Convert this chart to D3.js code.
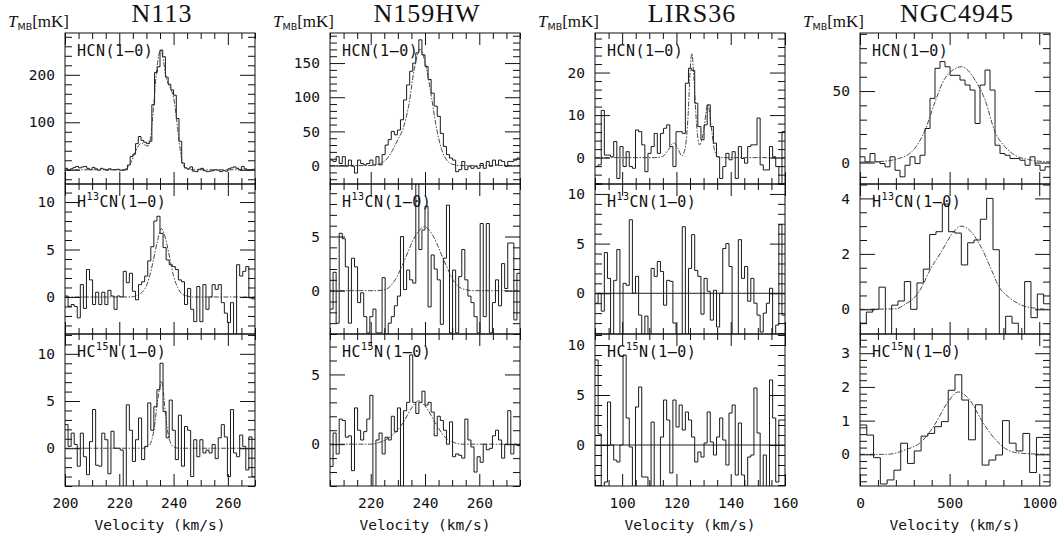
<!DOCTYPE html>
<html>
<head>
<meta charset="utf-8">
<script src="https://cdnjs.cloudflare.com/ajax/libs/d3/7.8.5/d3.min.js"></script>
<style>
  body { margin: 0; background: #fff; }
  svg text { fill: #111; }
</style>
</head>
<body>
<svg id="chart" width="1062" height="542"></svg>
<script>
// sources (columns) and molecular lines (rows)
var sources = ["N113", "N159HW", "LIRS36", "NGC4945"];
var lineBase = ["HCN", "H", "HC"];
var lineIso = ["", "13", "15"];
var lineRest = ["", "CN", "N"];

// velocity axes, one per column
var velRange = [[200, 270], [205, 275], [90, 160], [0, 1060]];
var velTicks = [[200, 220, 240, 260], [220, 240, 260], [100, 120, 140, 160], [0, 500, 1000]];
var velMinor = [5, 5, 5, 100];

// T_MB axes, [column][row]
var tRange = [
  [[-30, 288], [-3.9, 11.9], [-4.0, 12.1]],
  [[-27, 194], [-4.0, 9.85], [-3.0, 7.9]],
  [[-6.2, 29.3], [-4.1, 11.0], [-4.1, 11.1]],
  [[-15, 90.6], [-0.89, 4.52], [-0.94, 3.57]]
];
var tTicks = [
  [[0, 100, 200], [0, 5, 10], [0, 5, 10]],
  [[0, 50, 100, 150], [0, 5], [0, 5]],
  [[0, 10, 20], [0, 5, 10], [0, 5, 10]],
  [[0, 50], [0, 2, 4], [0, 1, 2, 3]]
];
var tMinor = [[20, 1, 1], [10, 1, 1], [2, 1, 1], [10, 0.5, 0.2]];

// spectra: first channel edge and channel width
var chanStart = [[200, 200, 200], [205, 205, 205], [90, 90, 90], [0, 0, 0]];
var chanWidth = [[1, 1.129, 1.129], [1.129, 1.129, 1.129], [1.148, 1.148, 1.148], [27.9, 35.33, 37.86]];

var n113_hcn = [3, -1, 2, 5, 7, 4, 6, 7, 3, 0, 5, 2, -1, 3, 1, -1, 2, 0, 0, 1, -1, -1, 0,
  10, 28, 33, 55, 70, 62, 58, 55, 60, 137, 205, 217, 252, 238, 195, 180, 168, 157, 108, 60, 14, 4, 2,
  6, -3, -4, 1, 3, -2, -4, -3, -2, 0, -1, -4, -2, -3, 2, 4, 6, 3, 0, 7, 2, -1, 0, 1];
var n113_h13cn = [0.1, -1, -0.8, -1, -2.2, 1.3, -1.2, 2.9, 1.8, -0.8, 0.5, -0.8, 0.5, -0.8, 0.7, 0.1,
  -1.3, 0.1, 0, 2.7, 1.5, 2.5, 0.6, -0.3, 1.3, 1.6, 2.2, 3.8, 5.3, 8.0, 8.5, 6.7, 5.2, 3.9, 3.4, 3.2,
  2.9, 1.8, 1.6, -0.8, 0.9, -1.3, -2.6, 1.1, -2.6, 1.3, -1.3, 0, 1.3, 0.8, 1.3, -0.6, -1.7, -2.7,
  -0.6, -4.5, 3.4, 2.2, 2.7, 3.2, -0.1, -0.2];
var n113_hc15n = [2.5, 0.2, 1.6, 0.4, -1.9, 1.6, -0.9, -2.8, 0.7, 4.1, -1.8, -1.9, 1.6, 0.9, -2.7, 1.8,
  0, 0, -0.2, -4.5, 4.6, 1.9, -1.4, 0.9, 3.2, -1.2, 0.2, 4.8, 1.9, 4.4, 6.2, 9.0, 3.9, 1.1, 5.1, 1.9,
  -1.2, 3.5, -1.9, 2.3, 1.9, -3.0, 0.9, -0.9, 0.9, -0.5, -0.2, -0.5, 0.4, -1.1, 1.1, 2.5, 1.2, -3.0,
  4.1, -0.5, -0.9, 1.4, 0.2, -2.3, 1.2, -3.0];

var n159_hcn = [8, 6, 13, 3, 13, -1, 8, -1, -11, 8, 3, 1, 3, 8, 1, 13, 1, 16, 30, 38,
  50, 45, 52, 67, 96, 118, 138, 150, 165, 184, 162, 145, 126, 106, 87, 72, 47, 28, 16, 11,
  8, -9, -6, 6, -6, -1, -4, -1, -4, 3, -4, 6, -1, 8, 1, 8, 6, -1, 6, 6, 8, 11];
var n159_h13cn = [-1.7, 1.7, -3.0, 5.3, 4.8, 2.2, -3.0, 3.0, 2.2, -1.1, -0.2, -2.4, -3.9, -2.4, -1.7,
  -3.9, -3.9, 1.2, -4.5, -3.0, -2.4, -1.4, -0.5, 5.0, 0.1, 1.9, 1.0, 0.7, 10.5, 3.8, 5.6, 7.8, -1.5,
  3.3, 2.0, 1.0, -3.1, 3.0, 7.9, -3.9, 1.9, -3.9, 1.3, 3.8, 1.0, -0.5, -1.1, -2.4, -3.9, 6.2, -2.4,
  6.2, -3.9, -1.1, 1.0, -1.4, 2.5, 0.2, 4.4, 4.4, -2.7, 1.6];
var n159_hc15n = [-1.6, 0.8, -0.7, 1.8, 1.7, 0.5, 0.6, -1.9, 2.6, 1.0, 0.3, 0.9, 1.8, 3.5, -3.5, 0.3,
  0.8, -0.7, 0.5, 0.3, 2.0, 0.9, 2.6, -3.5, 2.4, 3.0, 6.4, 3.0, 2.2, 3.0, 3.8, 2.8, 3.0, 2.3, 0.6, 2.0,
  1.7, 1.0, 0, 1.6, -0.9, -0.7, -0.8, -1.0, 1.8, 0.3, -0.2, -2.0, -0.9, -1.3, 0, -0.4, -0.3, 0.6,
  1.0, 0.3, -1.0, 0, 2.4, -0.7, 0, -0.1];

var lirs_hcn = [-2.1, -1.7, 11.1, 0.6, 0.6, 0.2, 3.8, -4.9, 2.6, -2.1, 1.4, -2.1, -2.5, 6.5, 6.1, 3.0,
  -3.3, 1.0, 2.6, 5.7, 1.0, 5.7, 6.9, 7.7, 2.6, -2.1, 6.1, 6.1, 5.7, 17.5, 21, 20.5, 12.8, 7.3, 4.2,
  7.7, 12.4, 7.3, 3.4, 0.2, -4.9, -2.1, 1.0, -0.5, 1.4, -4.9, 2.6, -0.2, -1.3, 2.6, 3.0, 3.0, 9.3,
  -1.7, -2.9, -2.9, 2.6, 0.2, -2.1, -7, 6.1];
var lirs_h13cn = [-1.0, 0, -1.8, 4.1, 1.5, -5, 1.3, 4.4, -5, 1.0, 0.8, 7.4, 0, 1.7, -2.2, -5, -2.3,
  -5, 2.5, 1.7, 3.2, 2.2, -1.2, 1.3, 1.2, -3.0, -5, -5, 6.7, -5, 2.5, 5.9, 2.3, 1.7, -2.1, 1.5, 0.2,
  -2.7, 0.3, -3.4, 0, 4.5, 5.0, 2.7, -5, -5, 5.4, 1.5, 2.7, -0.8, 1.5, -1.0, -2.2, -3.9, -2.0, -1.0,
  0.5, -5, -3.2, 6.9, -2.2];
var lirs_hc15n = [8.5, 1.1, -5, -3.7, 4.3, 0, -1.5, -1.7, 0, 9.0, 2.7, -0.2, -5, 3.8, 5.8, -3.2, -3.2,
  -5, 2.3, -5, -5, 0.8, 4.5, 2.5, -2.8, 4.5, 1.8, 4.0, 1.5, 3.3, 2.5, 0.8, -1.7, -0.7, -1.2, 0.2, 3.3,
  0.3, -1.0, 0.8, 2.7, 0.5, -2.0, 3.2, 4.0, -3.0, 2.2, -3.0, -5, -1.2, -1.0, 5.7, 1.2, -5, -1.0, -5,
  6.5, 2.7, -3.7, 2.5, 2.5];

var ngc_hcn = [4.0, 0.5, 6.3, 0.5, -0.7, -3.0, 4.0, -5.4, -10, -1.9, 4.0, -0.7, 5.1, 23.8, 44.9, 65.9,
  70.6, 67, 61, 61, 57.7, 54.2, 50.7, 27.3, 54.2, 64.7, 50.7, 12.1, 6.3, 5.1, 2.8, 2.8, 1.6, -1.9, 4.0,
  -1.9, -5.4, -3.0];
var ngc_h13cn = [-0.5, -0.1, 0.0, 0.8, -1.0, 0.15, 0.3, 1.0, 0.0, 0.95, 1.45, 2.7, 2.8, 3.8, 2.8, 2.75,
  1.6, 2.4, 2.5, 3.25, 4.0, 2.15, -1.0, -0.25, -0.5, -1.0, 1.0, -0.3, 0.55, 0.2];
var ngc_hc15n = [0.87, 0.57, -0.1, -0.88, -0.76, -0.47, 0.33, -0.27, 0.1, 0.54, 0.62, 0.82, 0.97, 1.9,
  2.36, 1.61, 0.43, 1.47, -0.32, -0.17, -0.02, 1.0, 0.33, 0.1, 0.62, -0.54, 0.5, 0.5];

var n113_hcn_fit = [[200, 0], [221, 0], [222.5, 2], [224, 12], [225.5, 32], [227, 50], [228.3, 56],
  [229.5, 52], [230.6, 50], [231.6, 70], [232.6, 130], [233.6, 200], [234.5, 240], [235.3, 252],
  [236.1, 236], [237, 202], [238, 182], [239, 170], [240, 152], [241, 112], [242, 62], [243, 22],
  [244, 6], [245, 1], [247, 0], [270, 0]];
var n113_h13cn_fit = [[200, 0], [224, 0], [226, 0.1], [228, 0.4], [229.5, 0.9], [231, 2], [232.5, 3.8],
  [234, 5.8], [235.5, 7.2], [237, 6.2], [238.5, 4.2], [240, 2.2], [241.5, 1.0], [243, 0.35], [245, 0.1],
  [247, 0], [270, 0]];
var n113_hc15n_fit = [[200, 0], [229, 0], [231, 0.3], [232, 0.9], [233, 2.4], [234, 4.8], [235, 6.6],
  [235.5, 7.1], [236, 6.6], [237, 3.6], [238, 1.5], [239, 0.5], [240, 0.15], [242, 0], [270, 0]];
var n159_hcn_fit = [[205, 0], [220, 0], [223, 2], [226, 10], [228, 22], [230, 38], [232, 55], [234, 88],
  [236, 140], [238.2, 170], [240, 152], [242, 110], [244, 60], [246, 25], [248, 8], [250, 2], [253, 0],
  [275, 0]];
var n159_h13cn_fit = [[205, 0], [222, 0], [225.3, 0.1], [229, 1.0], [232.6, 2.9], [236.3, 5.0],
  [239.8, 5.9], [243.1, 5.0], [246.8, 2.9], [251.1, 0.7], [254.8, 0.1], [258, 0], [275, 0]];
var n159_hc15n_fit = [[205, 0], [220, 0], [222.8, 0.1], [227.7, 0.6], [232, 1.55], [235.1, 2.6],
  [237.6, 3.1], [240.6, 2.6], [243.7, 1.55], [247.4, 0.5], [251, 0.1], [254, 0], [275, 0]];
var lirs_hcn_fit = [[90, 0], [112, 0], [115, 0.3], [117, 1.8], [119, 3.5], [120.5, 2.2], [122, 0.4],
  [123.3, 2.5], [124.3, 10], [125.1, 21], [125.7, 24.5], [126.4, 19], [127.4, 8], [128.5, 3.0],
  [129.8, 5.5], [131.6, 12.5], [132.7, 8], [133.8, 2.5], [135, 0.3], [136.5, 0], [160, 0]];
var ngc_hcn_fit = [[0, 0.3], [100, 0.6], [195, 2.1], [288, 7.5], [363, 22.7], [419, 42.5], [474, 58.9],
  [567, 67], [642, 57.7], [698, 43.7], [753, 21.5], [809, 11], [865, 5.1], [939, 2.1], [1060, 0.4]];
var ngc_h13cn_fit = [[0, 0], [200, 0.02], [251, 0.18], [307, 0.45], [353, 0.9], [381, 1.3], [456, 2.1],
  [511, 2.7], [564, 3.0], [620, 2.8], [679, 2.2], [735, 1.4], [772, 0.85], [828, 0.45], [902, 0.15],
  [976, 0.04], [1060, 0]];
var ngc_hc15n_fit = [[0, 0], [150, 0], [251, 0.13], [344, 0.38], [419, 0.9], [484, 1.5], [549, 1.85],
  [614, 1.6], [679, 1.0], [753, 0.45], [828, 0.12], [900, 0.03], [1060, 0]];

var spectra = [[n113_hcn, n113_h13cn, n113_hc15n], [n159_hcn, n159_h13cn, n159_hc15n],
  [lirs_hcn, lirs_h13cn, lirs_hc15n], [ngc_hcn, ngc_h13cn, ngc_hc15n]];
var fits = [[n113_hcn_fit, n113_h13cn_fit, n113_hc15n_fit], [n159_hcn_fit, n159_h13cn_fit, n159_hc15n_fit],
  [lirs_hcn_fit, null, null], [ngc_hcn_fit, ngc_h13cn_fit, ngc_hc15n_fit]];

// layout
var colLeft = [65, 330, 595, 860], panelW = 190;
var rowTop = [33, 184, 334], rowBot = [184, 334, 486];
var mono = "'DejaVu Sans Mono', monospace";
var serif = "'Liberation Serif', 'Times New Roman', serif";

var svg = d3.select("#chart");
var defs = svg.append("defs");

function rangeStep(lo, hi, step) {
  var out = [];
  var k0 = Math.ceil(lo / step - 1e-9), k1 = Math.floor(hi / step + 1e-9);
  for (var k = k0; k <= k1; k++) out.push(+(k * step).toFixed(6));
  return out;
}

function styleAxis(g) {
  g.select(".domain").remove();
  g.selectAll("line").attr("stroke", "#111").attr("stroke-width", 1);
  g.selectAll("text").attr("font-family", mono).attr("font-size", 14.5).attr("fill", "#111");
}

sources.forEach(function (src, c) {
  var L = colLeft[c];
  var x = d3.scaleLinear().domain(velRange[c]).range([L, L + panelW]);
  var xMin = rangeStep(velRange[c][0], velRange[c][1], velMinor[c]).filter(d => velTicks[c].indexOf(d) < 0);
  var xMaj = velTicks[c];

  // title
  svg.append("text").attr("x", L + panelW / 2 + 2).attr("y", 22)
    .attr("text-anchor", "middle").attr("font-family", serif).attr("font-size", 26)
    .attr("letter-spacing", 1).text(src);
  // T_MB[mK]
  var tl = svg.append("text").attr("x", L - 57).attr("y", 27).attr("font-family", serif).attr("font-size", 17);
  tl.append("tspan").attr("font-style", "italic").text("T");
  tl.append("tspan").attr("font-size", 9.5).attr("font-family", "'DejaVu Sans', sans-serif").attr("dy", 3).text("MB");
  tl.append("tspan").attr("dy", -3).text("[mK]");

  for (var r = 0; r < 3; r++) {
    var y = d3.scaleLinear().domain(tRange[c][r]).range([rowBot[r], rowTop[r]]);
    var yMin = rangeStep(tRange[c][r][0], tRange[c][r][1], tMinor[c][r]).filter(d => tTicks[c][r].indexOf(d) < 0);
    var yMaj = tTicks[c][r];
    var g = svg.append("g");
    var clipId = "clip" + c + r;
    defs.append("clipPath").attr("id", clipId).append("rect")
      .attr("x", L).attr("y", rowTop[r]).attr("width", panelW).attr("height", rowBot[r] - rowTop[r]);

    var plot = g.append("g").attr("clip-path", "url(#" + clipId + ")");

    // zero line where no fit is shown
    if (!fits[c][r]) {
      plot.append("line").attr("x1", L).attr("x2", L + panelW)
        .attr("y1", y(0)).attr("y2", y(0)).attr("stroke", "#222").attr("stroke-width", 1);
    }

    // histogram spectrum
    var vals = spectra[c][r], v0 = chanStart[c][r], dv = chanWidth[c][r];
    var pts = vals.map((t, i) => [v0 + i * dv, t]);
    pts.push([v0 + vals.length * dv, vals[vals.length - 1]]);
    plot.append("path").datum(pts)
      .attr("d", d3.line().x(d => x(d[0])).y(d => y(d[1])).curve(d3.curveStepAfter))
      .attr("fill", "none").attr("stroke", "#1a1a1a").attr("stroke-width", 1);

    // gaussian fit
    if (fits[c][r]) {
      plot.append("path").datum(fits[c][r])
        .attr("d", d3.line().x(d => x(d[0])).y(d => y(d[1])).curve(d3.curveMonotoneX))
        .attr("fill", "none").attr("stroke", "#333").attr("stroke-width", 0.9)
        .attr("stroke-dasharray", "5,1.5,1.5,1.5");
    }

    // frame
    g.append("rect").attr("x", L).attr("y", rowTop[r]).attr("width", panelW)
      .attr("height", rowBot[r] - rowTop[r]).attr("fill", "none").attr("stroke", "#111").attr("stroke-width", 1);

    // y ticks, left and right, pointing inward
    g.append("g").attr("transform", "translate(" + L + ",0)")
      .call(d3.axisLeft(y).tickValues(yMin).tickSize(-7).tickFormat("")).call(styleAxis);
    g.append("g").attr("transform", "translate(" + L + ",0)")
      .call(d3.axisLeft(y).tickValues(yMaj).tickSize(-15).tickPadding(10).tickFormat(d3.format("d"))).call(styleAxis);
    g.append("g").attr("transform", "translate(" + (L + panelW) + ",0)")
      .call(d3.axisRight(y).tickValues(yMin).tickSize(-7).tickFormat("")).call(styleAxis);
    g.append("g").attr("transform", "translate(" + (L + panelW) + ",0)")
      .call(d3.axisRight(y).tickValues(yMaj).tickSize(-15).tickFormat("")).call(styleAxis);

    // x ticks, top and bottom
    g.append("g").attr("transform", "translate(0," + rowTop[r] + ")")
      .call(d3.axisTop(x).tickValues(xMin).tickSize(-6).tickFormat("")).call(styleAxis);
    g.append("g").attr("transform", "translate(0," + rowTop[r] + ")")
      .call(d3.axisTop(x).tickValues(xMaj).tickSize(-12).tickFormat("")).call(styleAxis);
    g.append("g").attr("transform", "translate(0," + rowBot[r] + ")")
      .call(d3.axisBottom(x).tickValues(xMin).tickSize(-6).tickFormat("")).call(styleAxis);
    g.append("g").attr("transform", "translate(0," + rowBot[r] + ")")
      .call(d3.axisBottom(x).tickValues(xMaj).tickSize(-12).tickPadding(12)
        .tickFormat(r === 2 ? d3.format("d") : "")).call(styleAxis);

    // line label
    var lab = g.append("text").attr("x", L + 12).attr("y", rowTop[r] + 23)
      .attr("font-family", mono).attr("font-size", 15).attr("letter-spacing", 0.5);
    lab.append("tspan").text(lineBase[r]);
    if (lineIso[r]) {
      lab.append("tspan").attr("font-size", 10).attr("dy", -7).text(lineIso[r]);
      lab.append("tspan").attr("dy", 7).text(lineRest[r]);
    }
    lab.append("tspan").text("(1\u20130)");
  }

  // velocity label
  svg.append("text").attr("x", L + panelW / 2).attr("y", 530)
    .attr("text-anchor", "middle").attr("font-family", mono).attr("font-size", 14.5)
    .text("Velocity (km/s)");
});
</script>
</body>
</html>
